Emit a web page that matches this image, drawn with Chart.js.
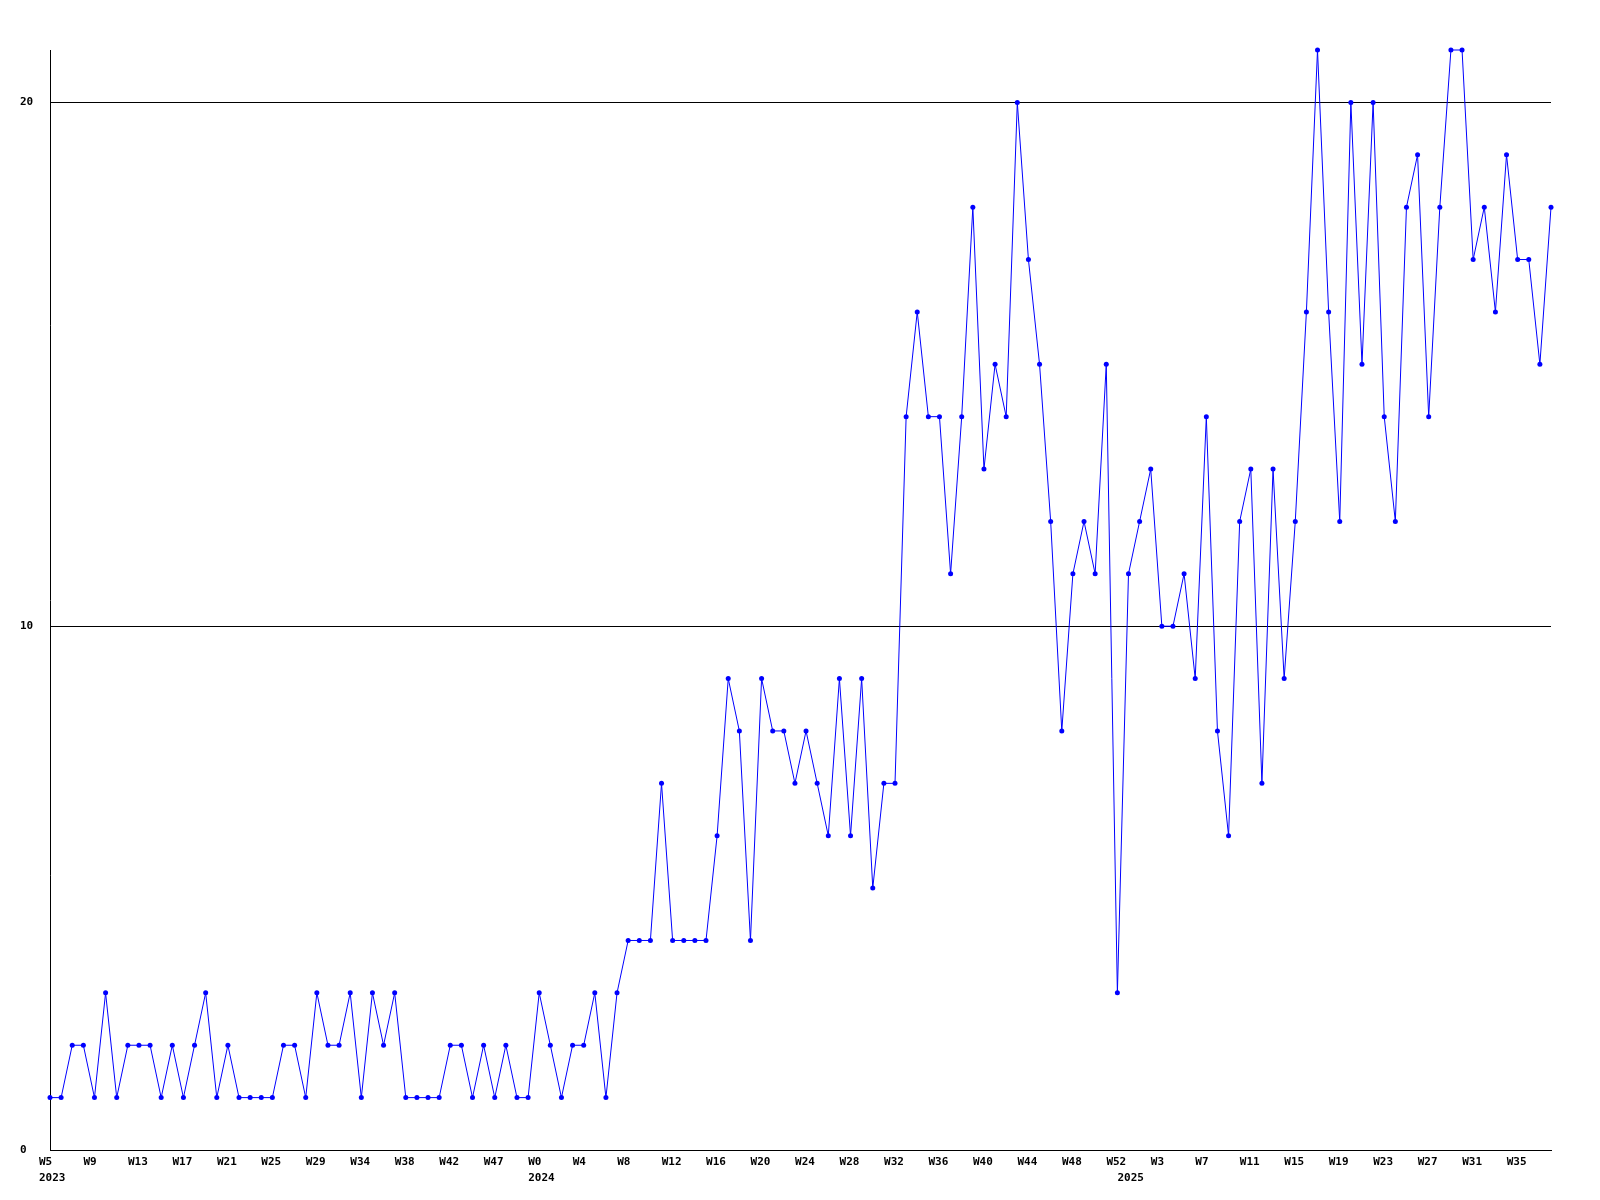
<!DOCTYPE html>
<html>
<head>
<meta charset="utf-8">
<script src="https://cdn.jsdelivr.net/npm/chart.js@4/dist/chart.umd.min.js"></script>
<style>
  html, body { margin: 0; padding: 0; background: #fff; }
  #wrap { width: 1600px; height: 1200px; }
</style>
</head>
<body>
<div id="wrap"><canvas id="weeklyChart" width="1600" height="1200"></canvas></div>
<script>
// week numbers per year (some 2023 weeks have no entry)
const weeks2023 = [5, 6, 7, 8, 9, 10, 11, 12, 13, 14, 15, 16, 17, 18, 19, 20, 21, 22, 23, 24, 25, 26, 27, 28, 29,
    30, 31, 32, 34, 35, 36, 37, 38, 39, 40, 41, 42, 43, 44, 46, 47, 48, 50, 52];
const weeks2024 = [0, 1, 2, 3, 4, 5, 6, 7, 8, 9, 10, 11, 12, 13, 14, 15, 16, 17, 18, 19, 20, 21, 22, 23, 24, 25, 26,
    27, 28, 29, 30, 31, 32, 33, 34, 35, 36, 37, 38, 39, 40, 41, 42, 43, 44, 45, 46, 47, 48, 49, 50, 51, 52];
const weeks2025 = [0, 1, 2, 3, 4, 5, 6, 7, 8, 9, 10, 11, 12, 13, 14, 15, 16, 17, 18, 19, 20, 21, 22, 23, 24, 25, 26,
    27, 28, 29, 30, 31, 32, 33, 34, 35, 36, 37, 38];

const counts = [
    1, 1, 2, 2, 1, 3, 1, 2, 2, 2,
    1, 2, 1, 2, 3, 1, 2, 1, 1, 1,
    1, 2, 2, 1, 3, 2, 2, 3, 1, 3,
    2, 3, 1, 1, 1, 1, 2, 2, 1, 2,
    1, 2, 1, 1, 3, 2, 1, 2, 2, 3,
    1, 3, 4, 4, 4, 7, 4, 4, 4, 4,
    6, 9, 8, 4, 9, 8, 8, 7, 8, 7,
    6, 9, 6, 9, 5, 7, 7, 14, 16, 14,
    14, 11, 14, 18, 13, 15, 14, 20, 17, 15,
    12, 8, 11, 12, 11, 15, 3, 11, 12, 13,
    10, 10, 11, 9, 14, 8, 6, 12, 13, 7,
    13, 9, 12, 16, 21, 16, 12, 20, 15, 20,
    14, 12, 18, 19, 14, 18, 21, 21, 17, 18,
    16, 19, 17, 17, 15, 18
];

const yTicks = [0, 10, 20];
const yMax = 21;
const labelEvery = 4;

// category list: one entry per week
const categories = [];
const yearStart = {};
[[2023, weeks2023], [2024, weeks2024], [2025, weeks2025]].forEach(function (pair) {
    yearStart[categories.length] = String(pair[0]);
    pair[1].forEach(function (w) { categories.push('W' + w); });
});

const monoFont = { family: '"DejaVu Sans Mono", "Liberation Mono", monospace', size: 11, weight: 'bold', lineHeight: '16px' };

new Chart(document.getElementById('weeklyChart'), {
    type: 'line',
    data: {
        labels: categories,
        datasets: [{
            data: counts,
            borderColor: '#0000ff',
            backgroundColor: '#0000ff',
            borderWidth: 1,
            tension: 0,
            pointStyle: 'circle',
            pointRadius: 2.5,
            pointBorderWidth: 0,
            clip: false
        }]
    },
    options: {
        responsive: false,
        animation: false,
        layout: { padding: { left: 20, top: 50, right: 49, bottom: 0 } },
        plugins: { legend: { display: false }, tooltip: { enabled: false } },
        scales: {
            x: {
                type: 'category',
                offset: false,
                grid: { display: false, drawTicks: false },
                border: { display: true, color: '#000', width: 1 },
                afterFit: function (scale) { scale.height = 50; },
                ticks: {
                    autoSkip: false,
                    maxRotation: 0,
                    minRotation: 0,
                    align: 'start',
                    labelOffset: -11,
                    padding: 4,
                    color: '#000',
                    font: monoFont,
                    callback: function (value, index) {
                        const wk = index % labelEvery === 0 ? categories[index] : '';
                        const yr = yearStart[index];
                        if (yr) return [wk, yr];
                        return wk;
                    }
                }
            },
            y: {
                min: 0,
                max: yMax,
                afterFit: function (scale) { scale.width = 30; },
                afterBuildTicks: function (scale) {
                    scale.ticks = yTicks.map(function (v) { return { value: v }; });
                },
                grid: { color: '#000', lineWidth: 1, drawTicks: false },
                border: { display: true, color: '#000', width: 1 },
                ticks: {
                    crossAlign: 'far',
                    padding: 0,
                    color: '#000',
                    font: monoFont
                }
            }
        }
    }
});
</script>
</body>
</html>
